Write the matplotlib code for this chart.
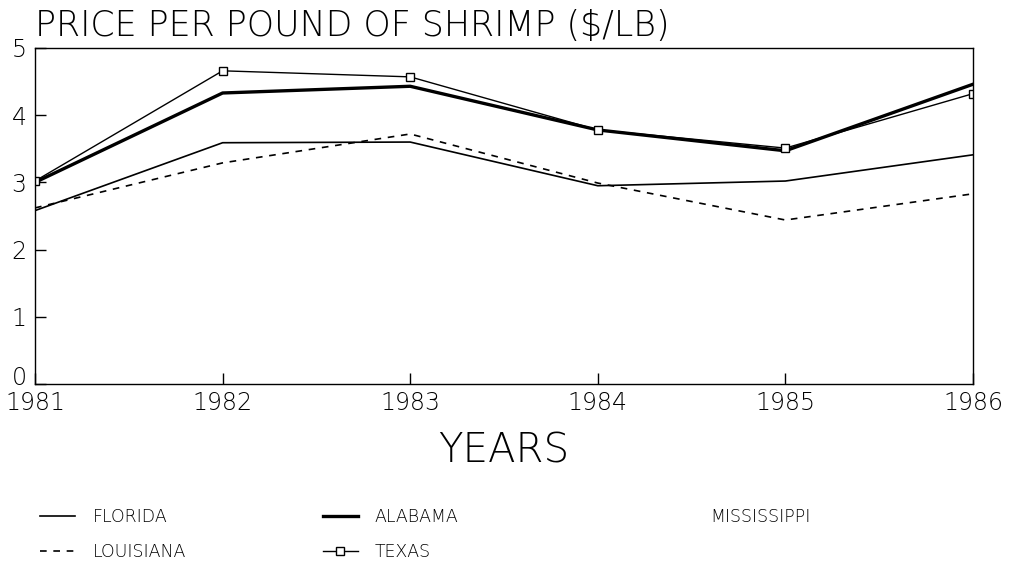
import matplotlib.pyplot as plt
import matplotlib.transforms as mtransforms
from matplotlib.lines import Line2D

years = [1981, 1982, 1983, 1984, 1985, 1986]
florida = [2.58, 3.59, 3.60, 2.95, 3.02, 3.41]
louisiana = [2.62, 3.29, 3.72, 2.99, 2.44, 2.83]
alabama = [3.00, 4.33, 4.43, 3.78, 3.47, 4.46]
texas = [3.02, 4.66, 4.57, 3.78, 3.51, 4.32]
mississippi = [float("nan")] * 6  # no data drawn in the original

plt.rcParams["font.family"] = "DejaVu Sans"
plt.rcParams["font.weight"] = "light"

fig = plt.figure(figsize=(10.09, 5.71), dpi=100)
ax = fig.add_axes([0.0347, 0.3275, 0.9296, 0.5885])

fl, = ax.plot(years, florida, color="black", lw=1.2)
lo, = ax.plot(years, louisiana, color="black", lw=1.2, ls=(0, (4, 4)))
al, = ax.plot(years, alabama, color="black", lw=2.4)
tx, = ax.plot(years, texas, color="black", lw=1.0, marker="s", ms=6,
              mfc="white", mec="black", mew=1.0)
ms, = ax.plot(years, mississippi, lw=0)

ax.set_xlim(1981, 1986)
ax.set_ylim(0, 5)
ax.set_xticks(years)
ax.set_yticks([0, 1, 2, 3, 4, 5])
ax.tick_params(direction="in", length=8, labelsize=17, width=1)
ax.tick_params(axis="x", pad=5)
ax.tick_params(axis="y", pad=6)
for s in ax.spines.values():
    s.set_linewidth(1.0)

# nudge the "0" label up a little so it clears "1981"
lab0 = ax.get_yticklabels()[0]
lab0.set_transform(lab0.get_transform() +
                   mtransforms.ScaledTranslation(0, 6 / 72, fig.dpi_scale_trans))

fig.text(0.0347, 0.925, "PRICE PER POUND OF SHRIMP ($/LB)", fontsize=25,
         fontweight="light", ha="left", va="bottom")
ax.set_xlabel("YEARS", fontsize=29, fontweight="light", labelpad=12)

cols = [
    ([fl, lo], ["FLORIDA", "LOUISIANA"], 0.040),
    ([al, tx], ["ALABAMA", "TEXAS"], 0.32),
    ([Line2D([], [], lw=0)], ["MISSISSIPPI"], 0.652),
]
for hs, labs, x0 in cols:
    leg = fig.legend(hs, labs, loc="upper left", bbox_to_anchor=(x0, 0.11),
                     frameon=False, fontsize=12.5, handlelength=2.0,
                     labelspacing=0.95, handletextpad=1.0,
                     borderpad=0, borderaxespad=0)

fig.savefig("out.png", dpi=100)
